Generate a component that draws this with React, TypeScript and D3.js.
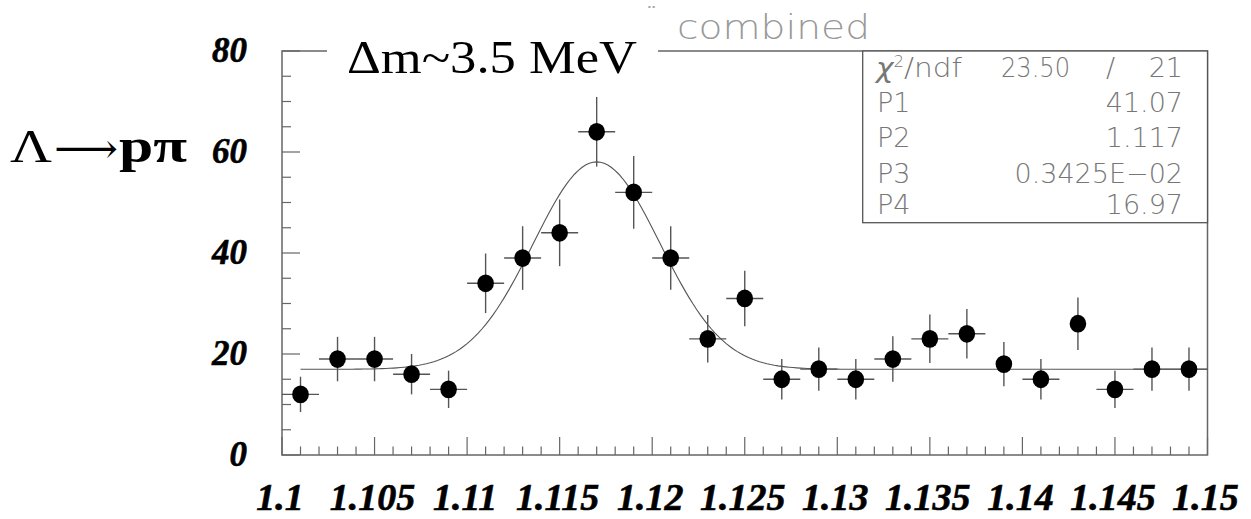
import React, { useEffect, useRef } from 'react';
import * as d3 from 'd3';

// histogram: bin centres, counts and errors
const binCenters = [1.101, 1.103, 1.105, 1.107, 1.109, 1.111, 1.113, 1.115, 1.117, 1.119, 1.121, 1.123, 1.125,
  1.127, 1.129, 1.131, 1.133, 1.135, 1.137, 1.139, 1.141, 1.143, 1.145, 1.147, 1.149];
const counts = [12, 19, 19, 16, 13, 34, 39, 44, 64, 52, 39, 23, 31, 15, 17, 15, 19, 23, 24, 18, 15, 26, 13, 17, 17];
const errors = [3.5, 4.4, 4.4, 4, 3.7, 5.9, 6.3, 6.6, 6.9, 7.2, 6.3, 4.7, 5.5, 4, 4.3, 4, 4.5, 4.8, 4.9, 4.4, 4, 5.2, 3.7, 4.3, 4.3];
const noXErr = [1.139, 1.143];
const binHalfWidth = 0.001;

const xTickLabels = ['1.1', '1.105', '1.11', '1.115', '1.12', '1.125', '1.13', '1.135', '1.14', '1.145', '1.15'];
const yTickLabels = ['0', '20', '40', '60', '80'];

// fit results from the stats box
const chi2 = '23.50';
const ndf = '21';
const p1 = 41.07;
const p2 = 1.117;
const p3 = 0.3425e-2;
const p4 = 16.97;
const statLabels = ['P1', 'P2', 'P3', 'P4'];
const statValues = ['41.07', '1.117', '0.3425E\u221202', '16.97'];

const App = () => {
  const svgRef = useRef<SVGSVGElement>(null);

  useEffect(() => {
    const svg = d3.select(svgRef.current);
    svg.selectAll('*').remove();

    const left = 282, right = 1207.5, top = 51, bottom = 455;
    const x = d3.scaleLinear().domain([1.1, 1.15]).range([left, right]);
    const y = d3.scaleLinear().domain([0, 80]).range([bottom, top]);
    const axisColor = '#666';
    const serif = '"Liberation Serif", "Times New Roman", serif';

    // frame
    svg.append('rect')
      .attr('x', left).attr('y', top)
      .attr('width', right - left).attr('height', bottom - top)
      .attr('fill', 'none').attr('stroke', axisColor).attr('stroke-width', 1.5);

    // x ticks (minor every 0.001, major every 0.005)
    const xt = d3.range(0, 51).map(i => 1.1 + i * 0.001);
    svg.append('g').selectAll('line')
      .data(xt)
      .enter().append('line')
      .attr('x1', d => x(d)).attr('x2', d => x(d))
      .attr('y1', bottom)
      .attr('y2', (d, i) => bottom - (i % 5 === 0 ? 18 : 8.5))
      .attr('stroke', axisColor).attr('stroke-width', 1.2);

    // y ticks (minor every 5, major every 20)
    const yt = d3.range(0, 17).map(i => i * 5);
    svg.append('g').selectAll('line')
      .data(yt)
      .enter().append('line')
      .attr('x1', left)
      .attr('x2', (d, i) => left + (i % 4 === 0 ? 18 : 9))
      .attr('y1', d => y(d)).attr('y2', d => y(d))
      .attr('stroke', axisColor).attr('stroke-width', 1.2);

    // tick labels
    svg.append('g').selectAll('text')
      .data(xTickLabels)
      .enter().append('text')
      .attr('x', d => x(+d) - 2)
      .attr('y', 510)
      .attr('text-anchor', 'middle')
      .attr('stroke', '#000').attr('stroke-width', 0.6)
      .style('font-family', serif)
      .style('font-weight', 'bold').style('font-style', 'italic')
      .style('font-size', '38px')
      .text(d => d);

    svg.append('g').selectAll('text')
      .data(yTickLabels)
      .enter().append('text')
      .attr('x', 247)
      .attr('y', d => y(+d) + 11)
      .attr('text-anchor', 'end')
      .attr('stroke', '#000').attr('stroke-width', 0.6)
      .style('font-family', serif)
      .style('font-weight', 'bold').style('font-style', 'italic')
      .style('font-size', '35px')
      .text(d => d);

    // fit curve: P4 + P1*gaus(P2, P3)
    const fitX = d3.range(1.101, 1.15, 0.0002).concat([1.15]);
    const line = d3.line<number>()
      .x(d => x(d))
      .y(d => y(p4 + p1 * Math.exp(-0.5 * ((d - p2) / p3) ** 2)));
    svg.append('path')
      .datum(fitX)
      .attr('fill', 'none')
      .attr('stroke', '#555')
      .attr('stroke-width', 1.1)
      .attr('d', line);

    // error bars
    const pts = binCenters.map((c, i) => ({ c, n: counts[i], e: errors[i] }));
    const eb = svg.append('g').attr('stroke', '#555').attr('stroke-width', 1.4);
    eb.selectAll('.v')
      .data(pts)
      .enter().append('line')
      .attr('x1', d => x(d.c)).attr('x2', d => x(d.c))
      .attr('y1', d => y(d.n - d.e)).attr('y2', d => y(d.n + d.e));
    eb.selectAll('.h')
      .data(pts.filter(d => !noXErr.includes(d.c)))
      .enter().append('line')
      .attr('x1', d => x(d.c - binHalfWidth)).attr('x2', d => x(d.c + binHalfWidth))
      .attr('y1', d => y(d.n)).attr('y2', d => y(d.n));

    // markers
    svg.append('g').selectAll('ellipse')
      .data(pts)
      .enter().append('ellipse')
      .attr('cx', d => x(d.c)).attr('cy', d => y(d.n))
      .attr('rx', 8.3).attr('ry', 8.9)
      .attr('fill', '#000');

    // title box over the frame
    svg.append('rect')
      .attr('x', 327).attr('y', 30).attr('width', 331).attr('height', 26)
      .attr('fill', '#fff');
    svg.append('text')
      .attr('x', 347).attr('y', 73)
      .attr('textLength', 290).attr('lengthAdjust', 'spacingAndGlyphs')
      .style('font-family', serif)
      .style('font-size', '46px')
      .text('\u0394m~3.5 MeV');

    // histogram title
    svg.append('text')
      .attr('x', 646).attr('y', 22)
      .attr('fill', '#aaa')
      .style('font-family', '"DejaVu Sans", sans-serif')
      .style('font-size', '22px')
      .text('\u00a8');
    svg.append('text')
      .attr('x', 677).attr('y', 39)
      .attr('textLength', 193).attr('lengthAdjust', 'spacingAndGlyphs')
      .attr('fill', '#999')
      .style('font-family', '"DejaVu Sans", sans-serif')
      .style('font-weight', 200)
      .style('font-size', '33px')
      .text('combined');

    // stats box
    const sb = svg.append('g');
    sb.append('rect')
      .attr('x', 862.7).attr('y', top).attr('width', right - 862.7).attr('height', 171.7)
      .attr('fill', '#fff').attr('stroke', '#555').attr('stroke-width', 1.3);
    const statFont = (s: any) => s
      .attr('fill', '#777')
      .style('font-family', '"DejaVu Sans", sans-serif')
      .style('font-weight', 200)
      .style('font-size', '27px');

    const chiRow = sb.append('text').attr('x', 876).attr('y', 77)
      .attr('textLength', 86).attr('lengthAdjust', 'spacingAndGlyphs').call(statFont);
    chiRow.append('tspan').style('font-style', 'italic').text('\u03c7');
    chiRow.append('tspan').attr('dy', -10).style('font-size', '15px').text('2');
    chiRow.append('tspan').attr('dy', 10).text('/ndf');
    sb.append('text').attr('x', 1001).attr('y', 77)
      .attr('textLength', 69).attr('lengthAdjust', 'spacingAndGlyphs').call(statFont).text(chi2);
    sb.append('text').attr('x', 1106).attr('y', 77).call(statFont).text('/');
    sb.append('text').attr('x', 1183).attr('y', 77).attr('text-anchor', 'end').call(statFont).text(ndf);

    const rowY = [112, 147, 182.5, 213.5];
    statLabels.forEach((lab, i) => {
      sb.append('text').attr('x', 877).attr('y', rowY[i]).call(statFont).text(lab);
      sb.append('text').attr('x', 1183).attr('y', rowY[i]).attr('text-anchor', 'end').call(statFont).text(statValues[i]);
    });

    // y axis label
    svg.append('text')
      .attr('x', 10).attr('y', 162)
      .attr('textLength', 42).attr('lengthAdjust', 'spacingAndGlyphs')
      .style('font-family', serif)
      .style('font-size', '46px')
      .text('\u039b');
    svg.append('text')
      .attr('x', 54).attr('y', 163)
      .attr('textLength', 64).attr('lengthAdjust', 'spacingAndGlyphs')
      .style('font-family', '"DejaVu Serif", "DejaVu Sans", serif')
      .style('font-size', '42px')
      .text('\u27f6');
    svg.append('text')
      .attr('x', 119).attr('y', 162)
      .attr('textLength', 68).attr('lengthAdjust', 'spacingAndGlyphs')
      .style('font-family', serif)
      .style('font-weight', 'bold')
      .style('font-size', '48px')
      .text('p\u03c0');
  });

  return (
    <svg ref={svgRef} width="1251" height="519"
      style={{ position: 'absolute', left: 0, top: 0, background: '#fff' }}></svg>
  );
};

export default App;
